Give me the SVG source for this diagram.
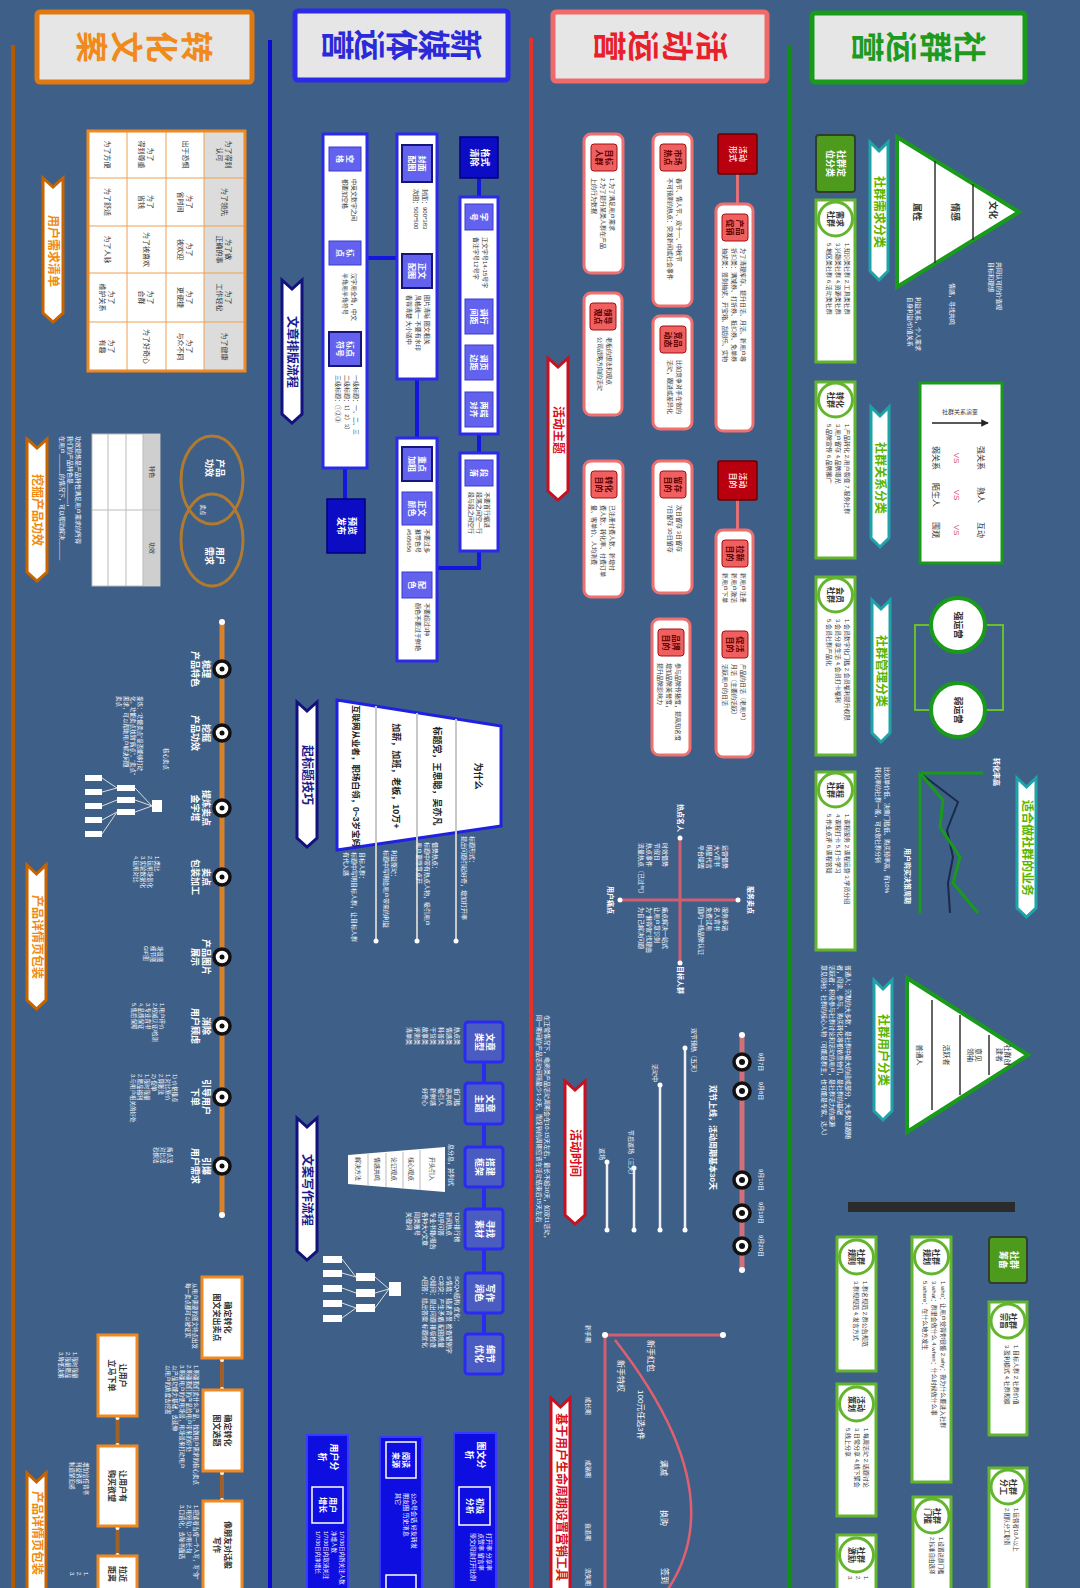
<svg xmlns="http://www.w3.org/2000/svg" width="1080" height="1588" viewBox="0 0 1080 1588">
<defs>
<style>
text,tspan{dominant-baseline:central}
text{font-family:'Liberation Sans','Noto Sans CJK SC',sans-serif}
.m{text-anchor:middle}
.w{fill:#fff}
.d{fill:#333}
.f5{font-size:5.5px}
.f6{font-size:6px}
.f7{font-size:7px}
.f8{font-size:8px}
.f9{font-size:9px}
.b{font-weight:bold}
.hd{font-size:32px;font-weight:bold;text-anchor:middle}
.ch{font-size:12px;font-weight:bold;text-anchor:middle}
.gbox{fill:#fff;stroke:#62b52c;stroke-width:3}
.gchev{fill:#fff;stroke:#1fa3a8;stroke-width:3}
.rbox{fill:#fff;stroke:#f07070;stroke-width:3}
.rtab{fill:#f06060;stroke:#a01010;stroke-width:1}
.rdark{fill:#b8000e;stroke:#600;stroke-width:1.5}
.rchev{fill:#fff;stroke:#c8101e;stroke-width:3}
.bbox{fill:#fff;stroke:#2a2ae8;stroke-width:3}
.btab{fill:#6262ee;stroke:#3a3ad0;stroke-width:1}
.btab2{fill:#6262ee;stroke:#15157a;stroke-width:2}
.bdark{fill:#0c0cc4;stroke:#00007a;stroke-width:1.5}
.bchev{fill:#fff;stroke:#12127e;stroke-width:3}
.bflow{fill:#4a5cc0;stroke:#2a2af0;stroke-width:3}
.bbig{fill:#0e0ee0;stroke:#3a3aff;stroke-width:2}
.obox{fill:#fff;stroke:#f08a20;stroke-width:3}
.ochev{fill:#fff;stroke:#c86400;stroke-width:3}
.node{fill:#fff;stroke:#111;stroke-width:3.5}
</style>
<marker id="ah" viewBox="0 0 10 10" refX="9" refY="5" markerWidth="5" markerHeight="5" orient="auto"><path d="M0,0 L10,5 L0,10 z" fill="#222"/></marker>
</defs>
<rect width="1080" height="1588" fill="#3e5f88"/>

<g id="section-lines">
<line x1="789" y1="45" x2="789" y2="1588" stroke="#109010" stroke-width="4"/>
<line x1="531" y1="38" x2="531" y2="1588" stroke="#e8302a" stroke-width="4"/>
<line x1="270" y1="40" x2="270" y2="1588" stroke="#0a0ad0" stroke-width="4"/>
<line x1="13" y1="45" x2="13" y2="1588" stroke="#b35900" stroke-width="4"/>
</g>

<g id="hdr-shequn">
<rect x="812" y="13" width="213" height="69" rx="3" fill="#e6e6e6" stroke="#1a9a1a" stroke-width="5"/>
<g class="hd" fill="#1e9a1e">
<text transform="translate(969 47) rotate(90)">社</text>
<text transform="translate(935 47) rotate(90)">群</text>
<text transform="translate(901 47) rotate(90)">运</text>
<text transform="translate(867 47) rotate(90)">营</text>
</g>
</g>
<g id="hdr-huodong">
<rect x="553" y="12" width="214" height="69" rx="3" fill="#e6e6e6" stroke="#f06a6a" stroke-width="5"/>
<g class="hd" fill="#e8202a">
<text transform="translate(711 46) rotate(90)">活</text>
<text transform="translate(677 46) rotate(90)">动</text>
<text transform="translate(643 46) rotate(90)">运</text>
<text transform="translate(609 46) rotate(90)">营</text>
</g>
</g>
<g id="hdr-xinmeiti">
<rect x="295" y="11" width="213" height="69" rx="3" fill="#e6e6e6" stroke="#2a2ae8" stroke-width="5"/>
<g class="hd" fill="#2a2ad8">
<text transform="translate(465 45) rotate(90)">新</text>
<text transform="translate(433 45) rotate(90)">媒</text>
<text transform="translate(401 45) rotate(90)">体</text>
<text transform="translate(369 45) rotate(90)">运</text>
<text transform="translate(337 45) rotate(90)">营</text>
</g>
</g>
<g id="hdr-zhuanhua">
<rect x="37" y="12" width="215" height="70" rx="3" fill="#e6e6e6" stroke="#e07a10" stroke-width="5"/>
<g class="hd" fill="#f08a1a">
<text transform="translate(196 47) rotate(90)">转</text>
<text transform="translate(161 47) rotate(90)">化</text>
<text transform="translate(126 47) rotate(90)">文</text>
<text transform="translate(91 47) rotate(90)">案</text>
</g>
</g>

<g id="connectors">
<line x1="737.5" y1="174" x2="737.5" y2="204" stroke="#e07078" stroke-width="3"/>
<line x1="737.5" y1="500" x2="737.5" y2="530" stroke="#e07078" stroke-width="3"/>
<line x1="479" y1="178" x2="479" y2="197" stroke="#1515e0" stroke-width="4"/>
<line x1="479" y1="434" x2="479" y2="453" stroke="#1515e0" stroke-width="4"/>
<path d="M479 551 V568 H437" fill="none" stroke="#1515e0" stroke-width="4"/>
<line x1="417" y1="379" x2="417" y2="438" stroke="#1515e0" stroke-width="4"/>
<line x1="367" y1="258" x2="397" y2="258" stroke="#1515e0" stroke-width="4"/>
<line x1="345" y1="468" x2="345" y2="499" stroke="#1515e0" stroke-width="4"/>
<line x1="484" y1="1062" x2="484" y2="1334" stroke="#2a2af0" stroke-width="4"/>
<path d="M931 625 H915 V710 H931 M985 625 H1003 V710 H985" fill="none" stroke="#6ac02a" stroke-width="2"/>
<line x1="222" y1="1358" x2="222" y2="1390" stroke="#a0602a" stroke-width="4"/>
<line x1="222" y1="1471" x2="222" y2="1501" stroke="#a0602a" stroke-width="4"/>
<line x1="117.5" y1="1416" x2="117.5" y2="1446" stroke="#a0602a" stroke-width="4"/>
<line x1="117.5" y1="1526" x2="117.5" y2="1556" stroke="#a0602a" stroke-width="4"/>
<g fill="#fff"><circle cx="222" cy="1360" r="2"/><circle cx="222" cy="1389" r="2"/><circle cx="222" cy="1473" r="2"/><circle cx="222" cy="1500" r="2"/><circle cx="117.5" cy="1418" r="2"/><circle cx="117.5" cy="1445" r="2"/><circle cx="117.5" cy="1528" r="2"/><circle cx="117.5" cy="1555" r="2"/></g>
</g>

<g id="sq-dingwei">
<rect x="816" y="135" width="39" height="57" rx="3" fill="#4e9a1c" stroke="#2f3f2f" stroke-width="2"/>
<text class="w b f9 m" transform="translate(835.5 163.5) rotate(90)"><tspan x="0" y="-5.5">社群定</tspan><tspan x="0" y="5.5">位分类</tspan></text>
</g>
<g id="sq-xuqiu-chev">
<polygon class="gchev" points="870,142 879,151 888,142 888,271 879,280 870,271"/>
<text class="ch" fill="#5cb400" transform="translate(879 212) rotate(90)">社群需求分类</text>
</g>
<g id="sq-pyramid1">
<polygon points="897,137 897,287 1019,212" fill="#fff" stroke="#1a9a1a" stroke-width="4"/>
<line x1="935" y1="161" x2="935" y2="263" stroke="#333" stroke-width="1.5"/>
<line x1="973" y1="184" x2="973" y2="240" stroke="#333" stroke-width="1.5"/>
<text class="d b f9 m" transform="translate(917 212) rotate(90)">属性</text>
<text class="d b f9 m" transform="translate(955 212) rotate(90)">情感</text>
<text class="d b f9 m" transform="translate(993 210) rotate(90)">文化</text>
<text class="w f6" transform="translate(999 262) rotate(90)"><tspan x="0" y="0">共同认可的价值观</tspan><tspan x="0" y="8">目标和理想</tspan></text>
<text class="w f6" transform="translate(952 283) rotate(90)">情感，寻找共鸣</text>
<text class="w f6" transform="translate(918 297) rotate(90)"><tspan x="0" y="0">利益关系，个人需求</tspan><tspan x="0" y="8">自身利益/价值关系</tspan></text>
</g>
<g id="sq-xuqiu-box">
<rect class="gbox" x="816" y="200" width="39" height="162"/>
<circle class="gbox" cx="835.5" cy="219" r="17"/>
<text class="d b f8 m" transform="translate(835.5 219) rotate(90)"><tspan x="0" y="-4.5">需求</tspan><tspan x="0" y="4.5">社群</tspan></text>
<text class="d f6" transform="translate(847 243) rotate(90)"><tspan x="0" y="0">1.知识类社群 2.工具类社群</tspan><tspan x="0" y="9">3.兴趣类社群 4.资源类社群</tspan><tspan x="0" y="18">5.地区类社群 6.活动类社群</tspan></text>
</g>
<g id="sq-zhuanhua-box">
<rect class="gbox" x="816" y="382" width="39" height="176"/>
<circle class="gbox" cx="835.5" cy="400" r="17"/>
<text class="d b f8 m" transform="translate(835.5 400) rotate(90)"><tspan x="0" y="-4.5">转化</tspan><tspan x="0" y="4.5">社群</tspan></text>
<text class="d f6" transform="translate(847 424) rotate(90)"><tspan x="0" y="0">1.产品转化 2.用户裂变 7.服务社群</tspan><tspan x="0" y="9">3.用户留存 4.品牌曝光</tspan><tspan x="0" y="18">5.品牌宣传 6.品牌推广</tspan></text>
</g>
<g id="sq-guanxi-chev">
<polygon class="gchev" points="871,407 880,416 889,407 889,538 880,547 871,538"/>
<text class="ch" fill="#5cb400" transform="translate(880 478) rotate(90)">社群关系分类</text>
</g>
<g id="sq-guanxi-panel">
<rect x="920" y="383" width="82" height="180" fill="#fff" stroke="#1a9a1a" stroke-width="3"/>
<line x1="932" y1="423" x2="988" y2="423" stroke="#222" stroke-width="1.5" marker-end="url(#ah)"/>
<text class="d f6 m" x="960" y="412">社群关系演变</text>
<g class="f8 m">
<text class="d" transform="translate(980 458) rotate(90)">强关系</text>
<text class="d" transform="translate(980 495) rotate(90)">熟人</text>
<text class="d" transform="translate(980 530) rotate(90)">互动</text>
<text fill="#e0507a" transform="translate(956 458) rotate(90)">VS</text>
<text fill="#e0507a" transform="translate(956 495) rotate(90)">VS</text>
<text fill="#e0507a" transform="translate(956 530) rotate(90)">VS</text>
<text class="d" transform="translate(935 458) rotate(90)">弱关系</text>
<text class="d" transform="translate(935 495) rotate(90)">陌生人</text>
<text class="d" transform="translate(935 530) rotate(90)">围观</text>
</g>
</g>
<g id="sq-huiyuan-box">
<rect class="gbox" x="816" y="577" width="39" height="178"/>
<circle class="gbox" cx="835.5" cy="595" r="17"/>
<text class="d b f8 m" transform="translate(835.5 595) rotate(90)"><tspan x="0" y="-4.5">会员</tspan><tspan x="0" y="4.5">社群</tspan></text>
<text class="d f6" transform="translate(847 619) rotate(90)"><tspan x="0" y="0">1.会员数字化门槛 2.会员福利提升权限</tspan><tspan x="0" y="9">3.会员分享生活 4.会员打卡福利</tspan><tspan x="0" y="18">5.会员社群产品化</tspan></text>
</g>
<g id="sq-guanli-chev">
<polygon class="gchev" points="872,600 881,609 890,600 890,733 881,742 872,733"/>
<text class="ch" fill="#5cb400" transform="translate(881 671) rotate(90)">社群管理分类</text>
</g>
<g id="sq-qiang">
<circle cx="958" cy="625" r="27" fill="#fff" stroke="#1a9a1a" stroke-width="4"/>
<text class="d b f9 m" transform="translate(958 625) rotate(90)">强运营</text>
</g>
<g id="sq-ruo">
<circle cx="958" cy="710" r="27" fill="#fff" stroke="#1a9a1a" stroke-width="4"/>
<text class="d b f9 m" transform="translate(958 710) rotate(90)">弱运营</text>
</g>
<g id="sq-chart">
<path d="M983 773 H920 V913" fill="none" stroke="#1a9a1a" stroke-width="3"/>
<polyline points="920,773 958,802 947,830 953,857 948,883 950,913" fill="none" stroke="#1a2a4a" stroke-width="2"/>
<polyline points="920,773 943,800 940,827 960,857 953,883 978,913" fill="none" stroke="#1a9a1a" stroke-width="3"/>
<text class="w f7 b" transform="translate(996 758) rotate(90)">转化率高</text>
<text class="w f7 b" transform="translate(907 848) rotate(90)">用户购买决策周期</text>
<text class="w f6" transform="translate(887 767) rotate(90)"><tspan x="0" y="0">比如单价低、决策门槛低、购买频率高，有10%</tspan><tspan x="0" y="9">转化率的社群一般，可以做社群分销</tspan></text>
</g>
<g id="sq-yewu-chev">
<polygon class="gchev" points="1017,778 1026.5,787 1036,778 1036,908 1026.5,917 1017,908"/>
<text class="ch" fill="#5cb400" transform="translate(1026.5 848) rotate(90)">适合做社群的业务</text>
</g>
<g id="sq-kecheng-box">
<rect class="gbox" x="816" y="772" width="39" height="178"/>
<circle class="gbox" cx="835.5" cy="790" r="17"/>
<text class="d b f8 m" transform="translate(835.5 790) rotate(90)"><tspan x="0" y="-4.5">课程</tspan><tspan x="0" y="4.5">社群</tspan></text>
<text class="d f6" transform="translate(847 814) rotate(90)"><tspan x="0" y="0">1.课程服务 2.课程运营 3.学员分组</tspan><tspan x="0" y="9">4.课程打卡 5.打卡学习</tspan><tspan x="0" y="18">5.作业点评 6.课程答疑</tspan></text>
</g>
<g id="sq-yonghu-chev">
<polygon class="gchev" points="874,980 883,989 892,980 892,1111 883,1120 874,1111"/>
<text class="ch" fill="#5cb400" transform="translate(883 1050) rotate(90)">社群用户分类</text>
</g>
<g id="sq-pyramid2">
<polygon points="907,978 907,1132 1028,1055" fill="#fff" stroke="#1a9a1a" stroke-width="4"/>
<line x1="932" y1="1000" x2="932" y2="1110" stroke="#333" stroke-width="1.5"/>
<line x1="960" y1="1015" x2="960" y2="1095" stroke="#333" stroke-width="1.5"/>
<line x1="989" y1="1035" x2="989" y2="1075" stroke="#333" stroke-width="1.5"/>
<text class="d f7 m" transform="translate(919 1055) rotate(90)">普通人</text>
<text class="d f7 m" transform="translate(946 1055) rotate(90)">活跃者</text>
<text class="d f7 m" transform="translate(975 1055) rotate(90)"><tspan x="0" y="-4">意见</tspan><tspan x="0" y="4">领袖</tspan></text>
<text class="d f7 m" transform="translate(1004 1055) rotate(90)"><tspan x="0" y="-4">社群创</tspan><tspan x="0" y="4">建者</tspan></text>
<text class="w f6" transform="translate(848 965) rotate(90)"><tspan x="0" y="0">普通人：沉默的大多数，是社群中最大的组成部分，大多数是跟随</tspan><tspan x="0" y="8">者，阅读、参与、购买转化等都依靠他们，是社群的基础</tspan><tspan x="0" y="16">活跃者：积极参与社群讨论和活动的用户，是社群活力的来源</tspan><tspan x="0" y="24">意见领袖：社群的核心人物（可能是群主，也可能是专家、达人）</tspan></text>
</g>
<g id="sq-bar"><rect x="848" y="1202" width="167" height="10" fill="#2b2b2b"/></g>
<g id="sq-choubei">
<rect x="989" y="1237" width="38" height="46" rx="3" fill="#4e9a1c" stroke="#2f3f2f" stroke-width="2"/>
<text class="w b f9 m" transform="translate(1008 1260) rotate(90)"><tspan x="0" y="-5.5">社群</tspan><tspan x="0" y="5.5">筹备</tspan></text>
</g>
<g id="sq-zongzhi">
<rect class="gbox" x="989" y="1302" width="38" height="133"/>
<circle class="gbox" cx="1008" cy="1321" r="17"/>
<text class="d b f8 m" transform="translate(1008 1321) rotate(90)"><tspan x="0" y="-4.5">社群</tspan><tspan x="0" y="4.5">宗旨</tspan></text>
<text class="d f6" transform="translate(1016 1345) rotate(90)"><tspan x="0" y="0">1.目标人群 2.社群价值</tspan><tspan x="0" y="9">3.盈利模式 4.社群规模</tspan></text>
</g>
<g id="sq-fengong">
<rect class="gbox" x="989" y="1468" width="38" height="135"/>
<circle class="gbox" cx="1008" cy="1487" r="17"/>
<text class="d b f8 m" transform="translate(1008 1487) rotate(90)"><tspan x="0" y="-4.5">社群</tspan><tspan x="0" y="4.5">分工</tspan></text>
<text class="d f5" transform="translate(1016 1508) rotate(90)"><tspan x="0" y="0">1.运营者10人以上</tspan><tspan x="0" y="9">2.团队分工职责</tspan></text>
</g>
<g id="sq-guihua">
<rect class="gbox" x="912" y="1237" width="39" height="245"/>
<circle class="gbox" cx="931.5" cy="1257" r="17"/>
<text class="d b f8 m" transform="translate(931.5 1257) rotate(90)"><tspan x="0" y="-4.5">社群</tspan><tspan x="0" y="4.5">规划</tspan></text>
<text class="d f6" transform="translate(943 1281) rotate(90)"><tspan x="0" y="0">1.who：让用户觉得你很懂 2.why：我为什么要进入社群</tspan><tspan x="0" y="9">3.what：群里会做什么 4.when：什么时候做什么事</tspan><tspan x="0" y="18">5.where：在什么地方发生</tspan></text>
</g>
<g id="sq-menkan">
<rect class="gbox" x="913" y="1497" width="38" height="100"/>
<circle class="gbox" cx="932" cy="1516" r="17"/>
<text class="d b f8 m" transform="translate(932 1516) rotate(90)"><tspan x="0" y="-4.5">社群</tspan><tspan x="0" y="4.5">门槛</tspan></text>
<text class="d f5" transform="translate(941 1537) rotate(90)"><tspan x="0" y="0">1.设置进群门槛</tspan><tspan x="0" y="9">2.标准自由选择</tspan></text>
</g>
<g id="sq-guize">
<rect class="gbox" x="837" y="1237" width="39" height="134"/>
<circle class="gbox" cx="856.5" cy="1257" r="17"/>
<text class="d b f8 m" transform="translate(856.5 1257) rotate(90)"><tspan x="0" y="-4.5">社群</tspan><tspan x="0" y="4.5">规则</tspan></text>
<text class="d f6" transform="translate(865 1281) rotate(90)"><tspan x="0" y="0">1.群名规范 2.群公告规范</tspan><tspan x="0" y="9">3.群规规范 4.发言方式</tspan></text>
</g>
<g id="sq-cehua">
<rect class="gbox" x="837" y="1384" width="39" height="132"/>
<circle class="gbox" cx="856.5" cy="1404" r="17"/>
<text class="d b f8 m" transform="translate(856.5 1404) rotate(90)"><tspan x="0" y="-4.5">活动</tspan><tspan x="0" y="4.5">策划</tspan></text>
<text class="d f6" transform="translate(866 1428) rotate(90)"><tspan x="0" y="0">1.每周活动 2.话题讨论</tspan><tspan x="0" y="9">3.日常分享 4.线下聚会</tspan><tspan x="0" y="18">5.线上分享</tspan></text>
</g>
<g id="sq-jili">
<rect class="gbox" x="837" y="1535" width="39" height="70"/>
<circle class="gbox" cx="856.5" cy="1555" r="17"/>
<text class="d b f8 m" transform="translate(856.5 1555) rotate(90)"><tspan x="0" y="-4.5">社群</tspan><tspan x="0" y="4.5">激励</tspan></text>
<text class="d f5" transform="translate(866 1576) rotate(90)"><tspan x="0" y="0">1.</tspan><tspan x="0" y="8">2.</tspan><tspan x="0" y="16">3.</tspan></text>
</g>

<g id="hd-xingshi">
<rect class="rdark" x="718" y="134" width="39" height="40" rx="2"/>
<text class="b f8 m" fill="#ffd8d8" transform="translate(737.5 154) rotate(90)"><tspan x="0" y="-5">活动</tspan><tspan x="0" y="5">形式</tspan></text>
</g>
<g id="hd-cuxiao">
<rect class="rbox" x="716" y="204" width="37" height="227" rx="7"/>
<rect class="rtab" x="722" y="214" width="26" height="27" rx="3"/>
<text class="b f8 m" fill="#5a0000" transform="translate(735 227.5) rotate(90)"><tspan x="0" y="-5">产品</tspan><tspan x="0" y="5">促销</tspan></text>
<text class="d f6" transform="translate(743 248) rotate(90)"><tspan x="0" y="0">为了清理库存、提升日活、月活、新用户等</tspan><tspan x="0" y="9">折扣类：满减券、打折券、抵扣券、免单券</tspan><tspan x="0" y="18">抽奖类：签到抽奖、开宝箱、刮刮乐、实物</tspan></text>
</g>
<g id="hd-redian">
<rect class="rbox" x="653" y="134" width="39" height="172" rx="7"/>
<rect class="rtab" x="660" y="144" width="26" height="27" rx="3"/>
<text class="b f8 m" fill="#5a0000" transform="translate(673 157.5) rotate(90)"><tspan x="0" y="-5">市场</tspan><tspan x="0" y="5">热点</tspan></text>
<text class="d f6" transform="translate(679 178) rotate(90)"><tspan x="0" y="0">春节、情人节、双十一、中秋节</tspan><tspan x="0" y="9">不可预测的热点：突发新闻或社会事件</tspan></text>
</g>
<g id="hd-jingpin">
<rect class="rbox" x="653" y="316" width="39" height="113" rx="7"/>
<rect class="rtab" x="660" y="326" width="26" height="27" rx="3"/>
<text class="b f8 m" fill="#5a0000" transform="translate(673 339.5) rotate(90)"><tspan x="0" y="-5">竞品</tspan><tspan x="0" y="5">动态</tspan></text>
<text class="d f6" transform="translate(679 360) rotate(90)"><tspan x="0" y="0">比如竞争对手在做的</tspan><tspan x="0" y="9">活动，跟进或差异化</tspan></text>
</g>
<g id="hd-renqun">
<rect class="rbox" x="584" y="134" width="39" height="139" rx="7"/>
<rect class="rtab" x="591" y="144" width="26" height="27" rx="3"/>
<text class="b f8 m" fill="#5a0000" transform="translate(604 157.5) rotate(90)"><tspan x="0" y="-5">目标</tspan><tspan x="0" y="5">人群</tspan></text>
<text class="d f6" transform="translate(612 178) rotate(90)"><tspan x="0" y="0">1.为了满足用户需求</tspan><tspan x="0" y="9">2.为了提升某类人群在产品</tspan><tspan x="0" y="18">上的行为数据</tspan></text>
</g>
<g id="hd-lingdao">
<rect class="rbox" x="584" y="293" width="38" height="122" rx="7"/>
<rect class="rtab" x="590" y="303" width="26" height="27" rx="3"/>
<text class="b f8 m" fill="#5a0000" transform="translate(603 316.5) rotate(90)"><tspan x="0" y="-5">领导</tspan><tspan x="0" y="5">观点</tspan></text>
<text class="d f6" transform="translate(609 337) rotate(90)"><tspan x="0" y="0">老板的想法和观点</tspan><tspan x="0" y="9">公司战略方向的活动</tspan></text>
</g>
<g id="hd-zhuti-chev">
<polygon class="rchev" points="548,358 558,367 568,358 568,491 558,500 548,491"/>
<text class="ch" fill="#d81020" transform="translate(558 430) rotate(90)">活动主题</text>
</g>
<g id="hd-mudi">
<rect class="rdark" x="718" y="461" width="39" height="39" rx="2"/>
<text class="b f8 m" fill="#ffd8d8" transform="translate(737.5 480.5) rotate(90)"><tspan x="0" y="-5">活动</tspan><tspan x="0" y="5">目的</tspan></text>
</g>
<g id="hd-laxin">
<rect class="rbox" x="716" y="530" width="37" height="227" rx="7"/>
<rect class="rtab" x="722" y="540" width="26" height="27" rx="3"/>
<text class="b f8 m" fill="#5a0000" transform="translate(735 553.5) rotate(90)"><tspan x="0" y="-5">拉新</tspan><tspan x="0" y="5">目的</tspan></text>
<text class="d f6" transform="translate(743 573) rotate(90)"><tspan x="0" y="0">新用户注册</tspan><tspan x="0" y="9">新用户激活</tspan><tspan x="0" y="18">新用户下单</tspan></text>
<rect class="rtab" x="722" y="631" width="26" height="27" rx="3"/>
<text class="b f8 m" fill="#5a0000" transform="translate(735 644.5) rotate(90)"><tspan x="0" y="-5">促活</tspan><tspan x="0" y="5">目的</tspan></text>
<text class="d f6" transform="translate(743 664) rotate(90)"><tspan x="0" y="0">产品的日活（老用户）</tspan><tspan x="0" y="9">月活（主要的活跃）</tspan><tspan x="0" y="18">活跃用户的日活</tspan></text>
</g>
<g id="hd-liucun">
<rect class="rbox" x="653" y="461" width="39" height="132" rx="7"/>
<rect class="rtab" x="660" y="471" width="26" height="27" rx="3"/>
<text class="b f8 m" fill="#5a0000" transform="translate(673 484.5) rotate(90)"><tspan x="0" y="-5">留存</tspan><tspan x="0" y="5">目的</tspan></text>
<text class="d f6" transform="translate(679 505) rotate(90)"><tspan x="0" y="0">次日留存 3日留存</tspan><tspan x="0" y="9">7日留存 30日留存</tspan></text>
</g>
<g id="hd-zhuanhua">
<rect class="rbox" x="584" y="461" width="39" height="136" rx="7"/>
<rect class="rtab" x="591" y="471" width="26" height="27" rx="3"/>
<text class="b f8 m" fill="#5a0000" transform="translate(604 484.5) rotate(90)"><tspan x="0" y="-5">转化</tspan><tspan x="0" y="5">目的</tspan></text>
<text class="d f6" transform="translate(612 505) rotate(90)"><tspan x="0" y="0">已注册付费人数、新增付</tspan><tspan x="0" y="9">费人数、转化率、付费订单</tspan><tspan x="0" y="18">量、客单价、人均消费</tspan></text>
</g>
<g id="hd-pinpai">
<rect class="rbox" x="652" y="619" width="38" height="136" rx="7"/>
<rect class="rtab" x="658" y="629" width="26" height="27" rx="3"/>
<text class="b f8 m" fill="#5a0000" transform="translate(671 642.5) rotate(90)"><tspan x="0" y="-5">品牌</tspan><tspan x="0" y="5">目的</tspan></text>
<text class="d f6" transform="translate(678 663) rotate(90)"><tspan x="0" y="0">参与品牌传播度，提高知名度</tspan><tspan x="0" y="9">增加品牌美誉度，</tspan><tspan x="0" y="18">提升品牌影响力</tspan></text>
</g>
<g id="hd-quadrant">
<line x1="680" y1="838" x2="680" y2="963" stroke="#d06070" stroke-width="3"/>
<line x1="620" y1="900" x2="738" y2="900" stroke="#d06070" stroke-width="3"/>
<g fill="#fff"><circle cx="680" cy="838" r="2.5"/><circle cx="680" cy="963" r="2.5"/><circle cx="620" cy="900" r="2.5"/><circle cx="738" cy="900" r="2.5"/></g>
<text class="w b f7 m" transform="translate(680 818) rotate(90)">热点名人</text>
<text class="w b f7 m" transform="translate(680 980) rotate(90)">目标人群</text>
<text class="w b f7 m" transform="translate(750 900) rotate(90)">服务卖点</text>
<text class="w b f7 m" transform="translate(610 900) rotate(90)">用户痛点</text>
<text class="w f6" transform="translate(725 845) rotate(90)"><tspan x="0" y="0">运营借势</tspan><tspan x="0" y="8">大V背书</tspan><tspan x="0" y="16">明星代言</tspan><tspan x="0" y="24">平台联盟</tspan></text>
<text class="w f6" transform="translate(665 843) rotate(90)"><tspan x="0" y="0">时效借势</tspan><tspan x="0" y="8">节假日</tspan><tspan x="0" y="16">热点事件</tspan><tspan x="0" y="24">流量热点（已过气）</tspan></text>
<text class="w f6" transform="translate(725 907) rotate(90)"><tspan x="0" y="0">服务承诺</tspan><tspan x="0" y="8">名人背书</tspan><tspan x="0" y="16">免费试用</tspan><tspan x="0" y="24">国内一线品牌认证</tspan></text>
<text class="w f6" transform="translate(665 907) rotate(90)"><tspan x="0" y="0">痛点解决一站式</tspan><tspan x="0" y="8">让用户意识到</tspan><tspan x="0" y="16">为“懒得做”找理由</tspan><tspan x="0" y="24">为自己解决问题</tspan></text>
</g>
<g id="hd-timeline">
<line x1="742" y1="1035" x2="742" y2="1270" stroke="#d07078" stroke-width="5"/>
<circle cx="742" cy="1035" r="3" fill="#fff"/><circle cx="742" cy="1270" r="3" fill="#fff"/>
<g>
<circle class="node" cx="742" cy="1062" r="8"/><circle cx="742" cy="1062" r="3" fill="#111"/>
<circle class="node" cx="742" cy="1091" r="8"/><circle cx="742" cy="1091" r="3" fill="#111"/>
<circle class="node" cx="742" cy="1180" r="8"/><circle cx="742" cy="1180" r="3" fill="#111"/>
<circle class="node" cx="742" cy="1213" r="8"/><circle cx="742" cy="1213" r="3" fill="#111"/>
<circle class="node" cx="742" cy="1246" r="8"/><circle cx="742" cy="1246" r="3" fill="#111"/>
</g>
<g class="w f6 m">
<text transform="translate(761 1062) rotate(90)">9月7日</text>
<text transform="translate(761 1091) rotate(90)">9月8日</text>
<text transform="translate(761 1180) rotate(90)">9月10日</text>
<text transform="translate(761 1213) rotate(90)">9月19日</text>
<text transform="translate(761 1246) rotate(90)">9月20日</text>
</g>
<text class="w b f8" transform="translate(712 1085) rotate(90)">双节上线，活动周期基本30天</text>
<g stroke="#f0f0f0" stroke-width="2.5">
<line x1="685" y1="1048" x2="685" y2="1230"/><line x1="660" y1="1085" x2="660" y2="1230"/>
<line x1="634" y1="1168" x2="634" y2="1230"/><line x1="607" y1="1162" x2="607" y2="1230"/>
</g>
<g fill="#fff"><circle cx="685" cy="1048" r="2.5"/><circle cx="685" cy="1230" r="2.5"/><circle cx="660" cy="1085" r="2.5"/><circle cx="660" cy="1230" r="2.5"/><circle cx="634" cy="1168" r="2.5"/><circle cx="634" cy="1230" r="2.5"/><circle cx="607" cy="1162" r="2.5"/><circle cx="607" cy="1230" r="2.5"/></g>
<text class="w f6" transform="translate(694 1028) rotate(90)">双节预热（五天）</text>
<text class="w f6" transform="translate(655 1064) rotate(90)">活动中</text>
<text class="w f6" transform="translate(631 1130) rotate(90)">节后返场（三天）</text>
<text class="w f6" transform="translate(602 1148) rotate(90)">返场</text>
</g>
<g id="hd-shijian-chev">
<polygon class="rchev" points="565,1081 575,1090 585,1081 585,1215 575,1224 565,1215"/>
<text class="ch" fill="#d81020" transform="translate(575 1153) rotate(90)">活动时间</text>
</g>
<text class="w f6" transform="translate(547 1015) rotate(90)"><tspan x="0" y="0">在正常情况下，电商类产品活动周期会在10-15天左右，最长不超30天，如双11活动，</tspan><tspan x="0" y="8">同一期间的产品活动间隔最少1-2天，而促销的周期应该在活动结束后15天左右</tspan></text>
<g id="hd-lifecycle">
<path d="M723 1335 H605 V1600" fill="none" stroke="#d06070" stroke-width="3"/>
<circle cx="605" cy="1335" r="3" fill="#fff"/><circle cx="723" cy="1335" r="3" fill="#fff"/>
<path d="M615 1340 Q740 1500 660 1600" fill="none" stroke="#e06070" stroke-width="2.5"/>
<g class="w f8">
<text transform="translate(650 1340) rotate(90)">新手红包</text>
<text transform="translate(620 1360) rotate(90)">新手特权</text>
<text transform="translate(640 1390) rotate(90)">100元任选3件</text>
<text transform="translate(663 1460) rotate(90)">满减</text>
<text transform="translate(663 1510) rotate(90)">换购</text>
<text transform="translate(664 1568) rotate(90)">签到</text>
</g>
<g class="w f6">
<text transform="translate(588 1325) rotate(90)">新手期</text>
<text transform="translate(588 1397) rotate(90)">成长期</text>
<text transform="translate(588 1460) rotate(90)">成熟期</text>
<text transform="translate(588 1523) rotate(90)">衰退期</text>
<text transform="translate(588 1568) rotate(90)">流失期</text>
</g>
</g>
<g id="hd-tools-chev">
<polygon class="rchev" points="551,1398 560.5,1407 570,1398 570,1620 560.5,1629 551,1620"/>
<text class="ch" fill="#d81020" transform="translate(560.5 1497) rotate(90)">基于用户生命周期设置营销工具</text>
</g>

<g id="xm-geshi">
<rect class="bdark" x="460" y="137" width="38" height="41"/>
<text class="w b f9 m" transform="translate(479 157.5) rotate(90)"><tspan x="0" y="-5.5">格式</tspan><tspan x="0" y="5.5">清除</tspan></text>
</g>
<g id="xm-boxA">
<rect class="bbox" x="460" y="197" width="38" height="237"/>
<rect class="btab" x="465" y="204" width="28" height="26"/>
<text class="w b f8 m" transform="translate(479 217) rotate(90)"><tspan x="0" y="-5">字</tspan><tspan x="0" y="5">号</tspan></text>
<text class="d f6" transform="translate(485 237) rotate(90)"><tspan x="0" y="0">正文字号14-15号字</tspan><tspan x="0" y="9">备注字号12号字</tspan></text>
<rect class="btab" x="465" y="299" width="28" height="35"/>
<text class="w b f8 m" transform="translate(479 316.5) rotate(90)"><tspan x="0" y="-5">调行</tspan><tspan x="0" y="5">间距</tspan></text>
<rect class="btab" x="465" y="345" width="28" height="35"/>
<text class="w b f8 m" transform="translate(479 362.5) rotate(90)"><tspan x="0" y="-5">调页</tspan><tspan x="0" y="5">边距</tspan></text>
<rect class="btab" x="465" y="392" width="28" height="35"/>
<text class="w b f8 m" transform="translate(479 409.5) rotate(90)"><tspan x="0" y="-5">两端</tspan><tspan x="0" y="5">对齐</tspan></text>
</g>
<g id="xm-duanluo">
<rect class="bbox" x="460" y="453" width="38" height="98"/>
<rect class="btab" x="465" y="460" width="28" height="26"/>
<text class="w b f8 m" transform="translate(479 473) rotate(90)"><tspan x="0" y="-5">段</tspan><tspan x="0" y="5">落</tspan></text>
<text class="d f6" transform="translate(487 492) rotate(90)"><tspan x="0" y="0">不要首行缩进</tspan><tspan x="0" y="8">段落之间空一行</tspan><tspan x="0" y="16">段与段之间空行</tspan></text>
</g>
<g id="xm-peitu">
<rect class="bbox" x="397" y="134" width="40" height="245"/>
<rect class="btab2" x="402" y="145" width="30" height="37"/>
<text class="w b f8 m" transform="translate(417 163.5) rotate(90)"><tspan x="0" y="-5">封面</tspan><tspan x="0" y="5">配图</tspan></text>
<text class="d f6" transform="translate(425 189) rotate(90)"><tspan x="0" y="0">封面：900*383</tspan><tspan x="0" y="9">次图：500*500</tspan></text>
<rect class="btab2" x="402" y="254" width="30" height="34"/>
<text class="w b f8 m" transform="translate(417 271) rotate(90)"><tspan x="0" y="-5">正文</tspan><tspan x="0" y="5">配图</tspan></text>
<text class="d f6" transform="translate(427 295) rotate(90)"><tspan x="0" y="0">图片清晰 图文相关</tspan><tspan x="0" y="9">风格统一 不要有水印</tspan><tspan x="0" y="18">看得清楚 大小适中</tspan></text>
</g>
<g id="xm-yanse">
<rect class="bbox" x="397" y="438" width="40" height="223"/>
<rect class="btab2" x="402" y="447" width="30" height="34"/>
<text class="w b f8 m" transform="translate(417 464) rotate(90)"><tspan x="0" y="-5">重点</tspan><tspan x="0" y="5">加粗</tspan></text>
<rect class="btab" x="402" y="492" width="30" height="33"/>
<text class="w b f8 m" transform="translate(417 508.5) rotate(90)"><tspan x="0" y="-5">正文</tspan><tspan x="0" y="5">颜色</tspan></text>
<text class="d f6" transform="translate(427 529) rotate(90)"><tspan x="0" y="0">不要过多</tspan><tspan x="0" y="9">推荐色号</tspan><tspan x="0" y="18">#565656</tspan></text>
<rect class="btab" x="402" y="572" width="30" height="26"/>
<text class="w b f8 m" transform="translate(417 585) rotate(90)"><tspan x="0" y="-5">配</tspan><tspan x="0" y="5">色</tspan></text>
<text class="d f6" transform="translate(427 603) rotate(90)"><tspan x="0" y="0">不要超过3种</tspan><tspan x="0" y="9">颜色不要过于鲜艳</tspan></text>
</g>
<g id="xm-biaodian">
<rect class="bbox" x="323" y="134" width="44" height="334"/>
<rect class="btab" x="329" y="147" width="32" height="24"/>
<text class="w b f8 m" transform="translate(345 159) rotate(90)"><tspan x="0" y="-5">空</tspan><tspan x="0" y="5">格</tspan></text>
<text class="d f6" transform="translate(354 179) rotate(90)"><tspan x="0" y="0">中英文数字之间</tspan><tspan x="0" y="9">都要加空格</tspan></text>
<rect class="btab" x="329" y="241" width="32" height="24"/>
<text class="w b f8 m" transform="translate(345 253) rotate(90)"><tspan x="0" y="-5">标</tspan><tspan x="0" y="5">点</tspan></text>
<text class="d f6" transform="translate(354 273) rotate(90)"><tspan x="0" y="0">汉字用全角，中文</tspan><tspan x="0" y="9">半角用半角符号</tspan></text>
<rect class="btab2" x="329" y="332" width="32" height="34"/>
<text class="w b f8 m" transform="translate(345 349) rotate(90)"><tspan x="0" y="-5">标点</tspan><tspan x="0" y="5">符号</tspan></text>
<text class="d f6" transform="translate(356 375) rotate(90)"><tspan x="0" y="0">一级标题：一、二、三</tspan><tspan x="0" y="9">二级标题：1）2）3）</tspan><tspan x="0" y="18">三级标题：①②③</tspan></text>
</g>
<g id="xm-fabu">
<rect class="bdark" x="327" y="499" width="38" height="54"/>
<text class="w b f9 m" transform="translate(346 526) rotate(90)"><tspan x="0" y="-5.5">预览</tspan><tspan x="0" y="5.5">发布</tspan></text>
</g>
<g id="xm-paiban-chev">
<polygon class="bchev" points="282,280 292,289 302,280 302,414 292,423 282,414"/>
<text class="ch" fill="#1a1a8c" transform="translate(292 352) rotate(90)">文章排版流程</text>
</g>
<g id="xm-biaoti-chev">
<polygon class="bchev" points="297,702 307,711 317,702 317,838 307,847 297,838"/>
<text class="ch" fill="#1a1a8c" transform="translate(307 775) rotate(90)">起标题技巧</text>
</g>
<g id="xm-trapezoid">
<polygon points="337,700 501,726 501,826 337,850" fill="#fff" stroke="#2020e0" stroke-width="3"/>
<g stroke="#c8c8c8" stroke-width="2">
<line x1="376" y1="706" x2="376" y2="941"/><line x1="417" y1="713" x2="417" y2="941"/><line x1="456" y1="719" x2="456" y2="941"/>
</g>
<g fill="#fff"><circle cx="376" cy="941" r="2.5"/><circle cx="417" cy="941" r="2.5"/><circle cx="456" cy="941" r="2.5"/></g>
<g class="b f9 m" fill="#222">
<text transform="translate(478 776) rotate(90)">为什么</text>
<text transform="translate(437 776) rotate(90)">标题党，王思聪，吴亦凡</text>
<text transform="translate(396 776) rotate(90)">加薪，加班，老板，10万+</text>
<text transform="translate(356 776) rotate(90)" style="font-size:8.5px">互联网从业者，职场白领，0~3岁宝妈</text>
</g>
<text class="w f6" transform="translate(472 836) rotate(90)"><tspan x="0" y="0">标题形式：</tspan><tspan x="0" y="8">提出问题引起好奇，增加打开率</tspan></text>
<text class="w f6" transform="translate(435 842) rotate(90)"><tspan x="0" y="0">借势热点：</tspan><tspan x="0" y="8">标题中带有热点人物，吸引用户</tspan><tspan x="0" y="16">用户更愿意点开</tspan></text>
<text class="w f6" transform="translate(394 850) rotate(90)"><tspan x="0" y="0">利益驱动：</tspan><tspan x="0" y="8">标题中写明给用户带来的利益</tspan></text>
<text class="w f6" transform="translate(362 852) rotate(90)"><tspan x="0" y="0">目标人群：</tspan><tspan x="0" y="8">标题中写明目标人群，让目标人群</tspan><tspan x="0" y="16">有代入感</tspan></text>
</g>
<g id="xm-flow">
<rect class="bflow" x="465" y="1022" width="38" height="40" rx="3"/>
<text class="w b f9 m" transform="translate(484 1042) rotate(90)"><tspan x="0" y="-5.5">文章</tspan><tspan x="0" y="5.5">类型</tspan></text>
<rect class="bflow" x="465" y="1083" width="38" height="41" rx="3"/>
<text class="w b f9 m" transform="translate(484 1103.5) rotate(90)"><tspan x="0" y="-5.5">文章</tspan><tspan x="0" y="5.5">主题</tspan></text>
<rect class="bflow" x="465" y="1147" width="38" height="40" rx="3"/>
<text class="w b f9 m" transform="translate(484 1167) rotate(90)"><tspan x="0" y="-5.5">搭建</tspan><tspan x="0" y="5.5">框架</tspan></text>
<rect class="bflow" x="465" y="1209" width="38" height="40" rx="3"/>
<text class="w b f9 m" transform="translate(484 1229) rotate(90)"><tspan x="0" y="-5.5">寻找</tspan><tspan x="0" y="5.5">素材</tspan></text>
<rect class="bflow" x="465" y="1273" width="38" height="40" rx="3"/>
<text class="w b f9 m" transform="translate(484 1293) rotate(90)"><tspan x="0" y="-5.5">写作</tspan><tspan x="0" y="5.5">润色</tspan></text>
<rect class="bflow" x="465" y="1334" width="38" height="40" rx="3"/>
<text class="w b f9 m" transform="translate(484 1354) rotate(90)"><tspan x="0" y="-5.5">细节</tspan><tspan x="0" y="5.5">优化</tspan></text>
<text class="w f6" transform="translate(457 1027) rotate(90)"><tspan x="0" y="0">热点类</tspan><tspan x="0" y="8">情感类</tspan><tspan x="0" y="16">科普类</tspan><tspan x="0" y="24">干货类</tspan><tspan x="0" y="32">故事类</tspan><tspan x="0" y="40">评测类</tspan><tspan x="0" y="48">清单类</tspan></text>
<text class="w f6" transform="translate(457 1088) rotate(90)"><tspan x="0" y="0">低门槛</tspan><tspan x="0" y="8">高共鸣</tspan><tspan x="0" y="16">吸引人</tspan><tspan x="0" y="24">新鲜感</tspan><tspan x="0" y="32">好奇心</tspan></text>
<text class="w f6" transform="translate(451 1144) rotate(90)">总分总，并列式</text>
<polygon points="445,1147 445,1192 348,1184 348,1155" fill="#fff"/>
<g stroke="#bbb" stroke-width="1"><line x1="420" y1="1150" x2="420" y2="1190"/><line x1="403" y1="1152" x2="403" y2="1189"/><line x1="386" y1="1153" x2="386" y2="1187"/><line x1="368" y1="1154" x2="368" y2="1186"/></g>
<g class="d f6 m">
<text transform="translate(432 1169) rotate(90)">开头引入</text>
<text transform="translate(411 1169) rotate(90)">核心观点</text>
<text transform="translate(394 1169) rotate(90)">论证观点</text>
<text transform="translate(377 1169) rotate(90)">情感共鸣</text>
<text transform="translate(358 1169) rotate(90)">解决方法</text>
</g>
<text class="w f6" transform="translate(457 1212) rotate(90)"><tspan x="0" y="0">TOP排行榜</tspan><tspan x="0" y="8">新闻热点</tspan><tspan x="0" y="16">知乎问答</tspan><tspan x="0" y="24">专业书籍/报告</tspan><tspan x="0" y="32">各种大V文章</tspan><tspan x="0" y="40">同类账号</tspan><tspan x="0" y="48">关键词</tspan></text>
<text class="w f6" transform="translate(457 1276) rotate(90)"><tspan x="0" y="0">SCQA结构 优化：</tspan><tspan x="0" y="8">S情境：描述背景 检查错别字</tspan><tspan x="0" y="16">C冲突：产生矛盾 配图质量</tspan><tspan x="0" y="24">Q疑问：提出问题 排版检查</tspan><tspan x="0" y="32">A回答：给出答案 标题优化</tspan></text>
<g fill="#fff">
<rect x="389" y="1282" width="12" height="14"/>
<rect x="356" y="1273" width="19" height="8"/><rect x="356" y="1289" width="19" height="8"/><rect x="356" y="1304" width="19" height="8"/>
<rect x="323" y="1256" width="19" height="7"/><rect x="323" y="1270" width="19" height="7"/><rect x="323" y="1285" width="19" height="7"/><rect x="323" y="1300" width="19" height="7"/><rect x="323" y="1315" width="19" height="7"/>
</g>
<g stroke="#ddd" stroke-width="1" fill="none">
<path d="M389 1289 L375 1277 M389 1289 L375 1293 M389 1289 L375 1308"/>
<path d="M356 1277 L342 1259 M356 1277 L342 1273 M356 1293 L342 1288 M356 1308 L342 1303 M356 1308 L342 1318"/>
</g>
</g>
<g id="xm-xiezuo-chev">
<polygon class="bchev" points="297,1118 307,1127 317,1118 317,1251 307,1260 297,1251"/>
<text class="ch" fill="#1a1a8c" transform="translate(307 1190) rotate(90)">文案写作流程</text>
</g>
<g id="xm-yonghu">
<rect class="bbig" x="307" y="1435" width="41" height="170"/>
<text class="w b f9 m" transform="translate(327.5 1457) rotate(90)"><tspan x="0" y="-6">用户分</tspan><tspan x="0" y="6">析</tspan></text>
<rect x="312" y="1487" width="31" height="36" fill="none" stroke="#fff" stroke-width="1.5"/>
<text class="w b f8 m" transform="translate(327.5 1505) rotate(90)"><tspan x="0" y="-5">用户</tspan><tspan x="0" y="5">增长</tspan></text>
<text class="w f5" transform="translate(342 1531) rotate(90)"><tspan x="0" y="0">1/7/30日内新关注人数</tspan><tspan x="0" y="8">净增人数</tspan><tspan x="0" y="16">1/7/30日内取消关注</tspan><tspan x="0" y="24">1/7/30日内净增长</tspan></text>
</g>
<g id="xm-yuedu">
<rect class="bbig" x="380" y="1437" width="42" height="170"/>
<rect x="386" y="1442" width="30" height="36" fill="none" stroke="#fff" stroke-width="1.5"/>
<text class="w b f8 m" transform="translate(401 1460) rotate(90)"><tspan x="0" y="-5">阅读</tspan><tspan x="0" y="5">来源</tspan></text>
<text class="w f6" transform="translate(414 1493) rotate(90)"><tspan x="0" y="0">公众号会话 好友转发</tspan><tspan x="0" y="8">朋友圈 历史消息</tspan><tspan x="0" y="16">其它</tspan></text>
<rect x="386" y="1575" width="30" height="25" fill="none" stroke="#fff" stroke-width="1.5"/>
</g>
<g id="xm-tuwen">
<rect class="bbig" x="454" y="1433" width="42" height="170"/>
<text class="w b f9 m" transform="translate(475 1455) rotate(90)"><tspan x="0" y="-6">图文分</tspan><tspan x="0" y="6">析</tspan></text>
<rect x="459" y="1487" width="31" height="38" fill="none" stroke="#fff" stroke-width="1.5"/>
<text class="w b f8 m" transform="translate(474.5 1506) rotate(90)"><tspan x="0" y="-5">初级</tspan><tspan x="0" y="5">分析</tspan></text>
<text class="w f6" transform="translate(489 1533) rotate(90)"><tspan x="0" y="0">打开率 分享率</tspan><tspan x="0" y="8">点赞率 留言率</tspan><tspan x="0" y="16">原文阅读打开比例</tspan></text>
</g>

<g id="zh-xuqiu-chev">
<polygon class="ochev" points="43,178 53,187 63,178 63,313 53,322 43,313"/>
<text class="ch" fill="#f08a10" transform="translate(53 251) rotate(90)">用户需求清单</text>
</g>
<g id="zh-table">
<rect x="88" y="131" width="157" height="240" fill="#fff"/>
<rect x="204" y="131" width="41" height="240" fill="#dcdcdc"/>
<g stroke="#f0a050" stroke-width="1">
<line x1="127" y1="131" x2="127" y2="371"/><line x1="166" y1="131" x2="166" y2="371"/><line x1="204" y1="131" x2="204" y2="371"/>
<line x1="88" y1="178" x2="245" y2="178"/><line x1="88" y1="226" x2="245" y2="226"/><line x1="88" y1="273" x2="245" y2="273"/><line x1="88" y1="322" x2="245" y2="322"/>
</g>
<rect x="88" y="131" width="157" height="240" fill="none" stroke="#f08a20" stroke-width="3"/>
<g class="d f7 m">
<text transform="translate(224.5 154.5) rotate(90)"><tspan x="0" y="-4.5">为了得到</tspan><tspan x="0" y="4.5">认可</tspan></text>
<text transform="translate(224.5 202) rotate(90)">为了领先</text>
<text transform="translate(224.5 249.5) rotate(90)"><tspan x="0" y="-4.5">为了做</tspan><tspan x="0" y="4.5">正确的事</tspan></text>
<text transform="translate(224.5 297.5) rotate(90)"><tspan x="0" y="-4.5">为了</tspan><tspan x="0" y="4.5">工作轻松</tspan></text>
<text transform="translate(224.5 346.5) rotate(90)">为了健康</text>
<text transform="translate(185 154.5) rotate(90)">出于恐惧</text>
<text transform="translate(185 202) rotate(90)"><tspan x="0" y="-4.5">为了</tspan><tspan x="0" y="4.5">省时间</tspan></text>
<text transform="translate(185 249.5) rotate(90)"><tspan x="0" y="-4.5">为了</tspan><tspan x="0" y="4.5">被欢迎</tspan></text>
<text transform="translate(185 297.5) rotate(90)"><tspan x="0" y="-4.5">为了</tspan><tspan x="0" y="4.5">更便捷</tspan></text>
<text transform="translate(185 346.5) rotate(90)"><tspan x="0" y="-4.5">为了</tspan><tspan x="0" y="4.5">与众不同</tspan></text>
<text transform="translate(146.5 154.5) rotate(90)"><tspan x="0" y="-4.5">为了</tspan><tspan x="0" y="4.5">得到尊重</tspan></text>
<text transform="translate(146.5 202) rotate(90)"><tspan x="0" y="-4.5">为了</tspan><tspan x="0" y="4.5">省钱</tspan></text>
<text transform="translate(146.5 249.5) rotate(90)">为了被喜欢</text>
<text transform="translate(146.5 297.5) rotate(90)"><tspan x="0" y="-4.5">为了</tspan><tspan x="0" y="4.5">合群</tspan></text>
<text transform="translate(146.5 346.5) rotate(90)">为了好奇心</text>
<text transform="translate(107.5 154.5) rotate(90)">为了方便</text>
<text transform="translate(107.5 202) rotate(90)">为了舒适</text>
<text transform="translate(107.5 249.5) rotate(90)">为了人脉</text>
<text transform="translate(107.5 297.5) rotate(90)"><tspan x="0" y="-4.5">为了</tspan><tspan x="0" y="4.5">维护关系</tspan></text>
<text transform="translate(107.5 346.5) rotate(90)"><tspan x="0" y="-4.5">为了</tspan><tspan x="0" y="4.5">有趣</tspan></text>
</g>
</g>
<g id="zh-gongxiao-chev">
<polygon class="ochev" points="27,439 37,448 47,439 47,572 37,581 27,572"/>
<text class="ch" fill="#f08a10" transform="translate(37 510) rotate(90)">挖掘产品功效</text>
</g>
<g id="zh-table2">
<rect x="92" y="434" width="68" height="152" fill="#fff" stroke="#bbb" stroke-width="1"/>
<rect x="143" y="434" width="17" height="152" fill="#cfcfcf"/>
<g stroke="#bbb" stroke-width="1"><line x1="108" y1="434" x2="108" y2="586"/><line x1="126" y1="434" x2="126" y2="586"/><line x1="143" y1="434" x2="143" y2="586"/><line x1="92" y1="510" x2="160" y2="510"/></g>
<text class="d f6 m" transform="translate(151.5 472) rotate(90)">特色</text>
<text class="d f6 m" transform="translate(151.5 548) rotate(90)">功效</text>
<text class="w f6" transform="translate(78 436) rotate(90)"><tspan x="0" y="0">功效提炼是产品特性满足用户需求的所得</tspan><tspan x="0" y="8">我们的产品特色是______，</tspan><tspan x="0" y="16">在用户______的情况下，可以帮助解决______</tspan></text>
</g>
<g id="zh-venn">
<ellipse cx="212" cy="480" rx="31" ry="44" fill="none" stroke="#b07a30" stroke-width="3"/>
<ellipse cx="212" cy="540" rx="31" ry="46" fill="none" stroke="#b07a30" stroke-width="3"/>
<text class="w b f9 m" transform="translate(214 468) rotate(90)"><tspan x="0" y="-5.5">产品</tspan><tspan x="0" y="5.5">功效</tspan></text>
<text class="w b f9 m" transform="translate(214 556) rotate(90)"><tspan x="0" y="-5.5">用户</tspan><tspan x="0" y="5.5">需求</tspan></text>
<text class="w f5 m" transform="translate(203 510) rotate(90)">卖点</text>
</g>
<g id="zh-timeline">
<line x1="222" y1="622" x2="222" y2="1215" stroke="#d8822a" stroke-width="5"/>
<circle cx="222" cy="622" r="3" fill="#fff"/><circle cx="222" cy="1215" r="3" fill="#fff"/>
<g>
<circle class="node" cx="222" cy="669" r="8"/><circle cx="222" cy="669" r="2.5" fill="#111"/>
<circle class="node" cx="222" cy="733" r="8"/><circle cx="222" cy="733" r="2.5" fill="#111"/>
<circle class="node" cx="222" cy="808" r="8"/><circle cx="222" cy="808" r="2.5" fill="#111"/>
<circle class="node" cx="222" cy="877" r="8"/><circle cx="222" cy="877" r="2.5" fill="#111"/>
<circle class="node" cx="222" cy="957" r="8"/><circle cx="222" cy="957" r="2.5" fill="#111"/>
<circle class="node" cx="222" cy="1026" r="8"/><circle cx="222" cy="1026" r="2.5" fill="#111"/>
<circle class="node" cx="222" cy="1097" r="8"/><circle cx="222" cy="1097" r="2.5" fill="#111"/>
<circle class="node" cx="222" cy="1166" r="8"/><circle cx="222" cy="1166" r="2.5" fill="#111"/>
</g>
<g class="w b f9 m">
<text transform="translate(200 669) rotate(90)"><tspan x="0" y="-5.5">梳理</tspan><tspan x="0" y="5.5">产品特色</tspan></text>
<text transform="translate(200 733) rotate(90)"><tspan x="0" y="-5.5">挖掘</tspan><tspan x="0" y="5.5">产品功效</tspan></text>
<text transform="translate(200 808) rotate(90)"><tspan x="0" y="-5.5">提炼卖点</tspan><tspan x="0" y="5.5">金字塔</tspan></text>
<text transform="translate(200 877) rotate(90)"><tspan x="0" y="-5.5">卖点</tspan><tspan x="0" y="5.5">包装加工</tspan></text>
<text transform="translate(200 957) rotate(90)"><tspan x="0" y="-5.5">产品图片</tspan><tspan x="0" y="5.5">展示</tspan></text>
<text transform="translate(200 1026) rotate(90)"><tspan x="0" y="-5.5">消除</tspan><tspan x="0" y="5.5">用户顾虑</tspan></text>
<text transform="translate(200 1097) rotate(90)"><tspan x="0" y="-5.5">引导用户</tspan><tspan x="0" y="5.5">下单</tspan></text>
<text transform="translate(200 1166) rotate(90)"><tspan x="0" y="-5.5">引爆</tspan><tspan x="0" y="5.5">用户需求</tspan></text>
</g>
<text class="w f5" transform="translate(140 696) rotate(90)"><tspan x="0" y="0">提炼：“功能卖点”是否能够打动</tspan><tspan x="0" y="7">化，功能卖点找到“痛点”，“卖点”</tspan><tspan x="0" y="14">需求，可以帮助用户解决问题</tspan><tspan x="0" y="21">卖点</tspan></text>
<text class="w f5" transform="translate(166 748) rotate(90)">核心卖点</text>
<g fill="#fff">
<rect x="152" y="800" width="10" height="12"/>
<rect x="117" y="785" width="18" height="6"/><rect x="117" y="797" width="18" height="6"/><rect x="117" y="809" width="18" height="6"/>
<rect x="85" y="775" width="17" height="6"/><rect x="85" y="789" width="17" height="6"/><rect x="85" y="803" width="17" height="6"/><rect x="85" y="817" width="17" height="6"/><rect x="85" y="831" width="17" height="6"/>
</g>
<g stroke="#ddd" stroke-width="1" fill="none">
<path d="M152 806 L135 788 M152 806 L135 800 M152 806 L135 812"/>
<path d="M117 788 L102 778 M117 788 L102 792 M117 800 L102 806 M117 812 L102 820 M117 812 L102 834"/>
</g>
<text class="w f5" transform="translate(157 856) rotate(90)"><tspan x="0" y="0">1.类比</tspan><tspan x="0" y="7">2.运用场景化</tspan><tspan x="0" y="14">3.实验数据化</tspan><tspan x="0" y="21">4.运用对比</tspan></text>
<text class="w f5" transform="translate(160 946) rotate(90)"><tspan x="0" y="0">场景图</tspan><tspan x="0" y="7">细节图</tspan><tspan x="0" y="14">GIF图</tspan></text>
<text class="w f5" transform="translate(162 1003) rotate(90)"><tspan x="0" y="0">1.用户评价</tspan><tspan x="0" y="7">2.权威认证/检测</tspan><tspan x="0" y="14">3.专业背书</tspan><tspan x="0" y="21">4.品质保证</tspan><tspan x="0" y="28">5.售后保障</tspan></text>
<text class="w f5" transform="translate(175 1074) rotate(90)"><tspan x="0" y="0">1) 价格锚点</tspan><tspan x="0" y="7">1.对比原价</tspan><tspan x="0" y="14">2.算账法</tspan><tspan x="0" y="21">2) 促单</tspan><tspan x="0" y="28">1.限时限量</tspan><tspan x="0" y="35">2.赠品福利</tspan><tspan x="0" y="42">3.与用户相关的好处</tspan></text>
<text class="w f5" transform="translate(170 1147) rotate(90)"><tspan x="0" y="0">痛点法</tspan><tspan x="0" y="7">对比法</tspan><tspan x="0" y="14">恐惧法</tspan></text>
</g>
<g id="zh-baozhuang-chev">
<polygon class="ochev" points="27,865 36.5,874 46,865 46,1000 36.5,1009 27,1000"/>
<text class="ch" fill="#f08a10" transform="translate(36.5 937) rotate(90)">产品详情页包装</text>
</g>
<g id="zh-b1">
<rect class="obox" x="202" y="1277" width="40" height="81"/>
<text class="d b f8 m" transform="translate(222 1317.5) rotate(90)"><tspan x="0" y="-5.5">确定转化</tspan><tspan x="0" y="5.5">图文突出卖点</tspan></text>
<text class="w f5" transform="translate(195 1283) rotate(90)"><tspan x="0" y="0">从用户需要的图文特点出发</tspan><tspan x="0" y="7">每一卖点都可以被证实</tspan></text>
</g>
<g id="zh-b2">
<rect class="obox" x="203" y="1390" width="39" height="81"/>
<text class="d b f8 m" transform="translate(222.5 1430.5) rotate(90)"><tspan x="0" y="-5.5">确定转化</tspan><tspan x="0" y="5.5">图文选题</tspan></text>
<text class="w f5" transform="translate(196 1365) rotate(90)"><tspan x="0" y="0">1.明确我们卖什么产品，找到用户需求的核心卖点</tspan><tspan x="0" y="7">2.明确我们的产品给用户带来的好处</tspan><tspan x="0" y="14">3.明确用户的使用场景，用场景来打动用户</tspan><tspan x="0" y="21">以产品功能为基础，去延伸</tspan><tspan x="0" y="28">以用户的角度去挖掘</tspan></text>
</g>
<g id="zh-b3">
<rect class="obox" x="203" y="1501" width="39" height="100"/>
<text class="d b f8 m" transform="translate(222.5 1545) rotate(90)"><tspan x="0" y="-5.5">像朋友对话般</tspan><tspan x="0" y="5.5">写作</tspan></text>
<text class="w f5" transform="translate(196 1505) rotate(90)"><tspan x="0" y="0">1.把读者当成一个人写，写“你”</tspan><tspan x="0" y="7">2.用短句，少用长句</tspan><tspan x="0" y="14">3.口语化，去除书面语</tspan></text>
</g>
<g id="zh-b4">
<rect class="obox" x="98" y="1335" width="39" height="81"/>
<text class="d b f8 m" transform="translate(117.5 1375.5) rotate(90)"><tspan x="0" y="-5.5">让用户</tspan><tspan x="0" y="5.5">立马下单</tspan></text>
<text class="w f5" transform="translate(75 1352) rotate(90)"><tspan x="0" y="0">1.限时限量</tspan><tspan x="0" y="7">2.限量赠品</tspan><tspan x="0" y="14">3.降低决策</tspan></text>
</g>
<g id="zh-b5">
<rect class="obox" x="98" y="1446" width="39" height="80"/>
<text class="d b f8 m" transform="translate(117.5 1486) rotate(90)"><tspan x="0" y="-5.5">让用户有</tspan><tspan x="0" y="5.5">购买欲望</tspan></text>
<text class="w f5" transform="translate(86 1462) rotate(90)"><tspan x="0" y="0">增加信任背书</tspan><tspan x="0" y="7">利益诱惑</tspan><tspan x="0" y="14">制造紧迫感</tspan></text>
</g>
<g id="zh-b6">
<rect class="obox" x="98" y="1556" width="39" height="60"/>
<text class="d b f8 m" transform="translate(117.5 1574) rotate(90)"><tspan x="0" y="-5.5">拉近</tspan><tspan x="0" y="5.5">距离</tspan></text>
<text class="w f5" transform="translate(86 1572) rotate(90)"><tspan x="0" y="0">1.</tspan><tspan x="0" y="7">2.</tspan><tspan x="0" y="14">3.</tspan></text>
</g>
<g id="zh-baozhuang2-chev">
<polygon class="ochev" points="27,1473 36.5,1482 46,1473 46,1620 36.5,1629 27,1620"/>
<text class="ch" fill="#f08a10" transform="translate(36.5 1533) rotate(90)">产品详情页包装</text>
</g>
</svg>
